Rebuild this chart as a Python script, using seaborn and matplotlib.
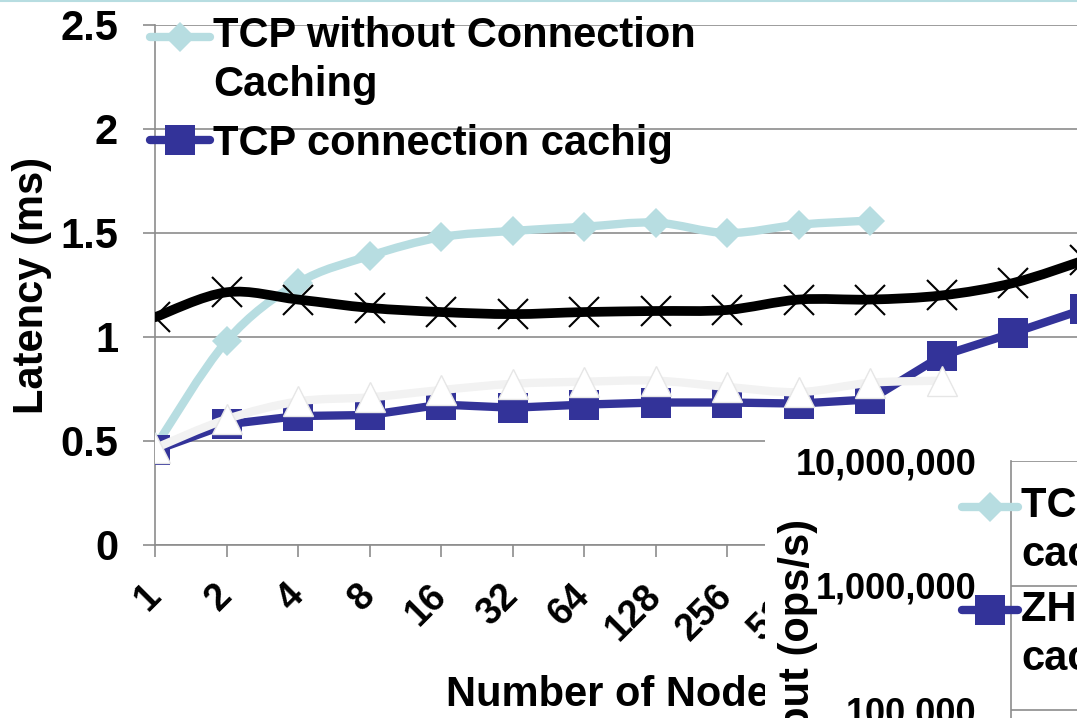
import numpy as np
import matplotlib
matplotlib.use("Agg")
import matplotlib.pyplot as plt
import seaborn as sns
from matplotlib.path import Path
from matplotlib.patches import PathPatch, Rectangle
from matplotlib.lines import Line2D
from matplotlib.legend_handler import HandlerLine2D
from matplotlib.ticker import FuncFormatter, FixedLocator, NullLocator

# ---------------- data ----------------
nodes = ["1", "2", "4", "8", "16", "32", "64", "128", "256", "512",
         "1024", "2048", "4096", "8192"]
tcp_no_cache = [0.47, 0.98, 1.26, 1.39, 1.48, 1.51, 1.53, 1.55, 1.50, 1.54, 1.56]
tcp_cache = [0.455, 0.58, 0.62, 0.625, 0.675, 0.66, 0.675, 0.685, 0.685, 0.68,
             0.70, 0.91, 1.02, 1.135]
series_x = [1.095, 1.215, 1.18, 1.14, 1.12, 1.11, 1.12, 1.125, 1.13, 1.18,
            1.18, 1.20, 1.26, 1.37]
series_tri = [0.465, 0.605, 0.69, 0.71, 0.745, 0.775, 0.785, 0.79, 0.76,
              0.735, 0.78, 0.79]
lat_ticks = [0, 0.5, 1, 1.5, 2, 2.5]
lat_tick_labels = ["0", "0.5", "1", "1.5", "2", "2.5"]
thr_ticks = [1e3, 1e4, 1e5, 1e6, 1e7]
legend1_labels = ["TCP without Connection\nCaching", "TCP connection cachig"]
legend2_labels = ["TCP without connection\ncaching", "ZHT with connection\ncaching"]
lat_ylabel = "Latency (ms)"
lat_xlabel = "Number of Nodes"
thr_ylabel = "Throughput (ops/s)"

# ---------------- style ----------------
sns.set_style("white")
plt.rcParams["font.family"] = ["Liberation Sans", "DejaVu Sans"]
plt.rcParams["font.weight"] = "bold"
for k in ["text.color", "axes.labelcolor", "xtick.labelcolor", "ytick.labelcolor"]:
    plt.rcParams[k] = "black"

CYAN = "#B7DDE1"
NAVY = "#333399"
GRID = "#8C8C8C"
TRI_LINE = "#F2F2F2"

W, H = 1077, 718
fig = plt.figure(figsize=(W / 100, H / 100), dpi=100)
fig.patch.set_facecolor("white")


def fx(px):
    return px / W


def fy(py):
    return (H - py) / H


def smooth_path(xs, ys):
    pts = np.column_stack([xs, ys]).astype(float)
    n = len(pts)
    verts = [pts[0]]
    codes = [Path.MOVETO]
    for i in range(n - 1):
        p0 = pts[i - 1] if i > 0 else pts[i]
        p1 = pts[i]
        p2 = pts[i + 1]
        p3 = pts[i + 2] if i + 2 < n else pts[i + 1]
        c1 = p1 + (p2 - p0) / 6.0
        c2 = p2 - (p3 - p1) / 6.0
        verts += [c1, c2, p2]
        codes += [Path.CURVE4] * 3
    return Path(verts, codes)


class ShiftedHandler(HandlerLine2D):
    """Legend line handle moved up so it sits beside the first text line."""

    def __init__(self, dy, **kw):
        super().__init__(**kw)
        self.dy = dy

    def create_artists(self, legend, orig_handle, xdescent, ydescent, width,
                       height, fontsize, trans):
        artists = super().create_artists(legend, orig_handle, xdescent,
                                         ydescent, width, height, fontsize,
                                         trans)
        for a in artists:
            a.set_ydata(np.asarray(a.get_ydata(), float) + self.dy)
        return artists


# ---------------- latency chart ----------------
ax = fig.add_axes([fx(155), fy(545), fx(1085) - fx(155), fy(25) - fy(545)])
ax.set_zorder(1)
xpos = np.arange(len(nodes))

# cyan smooth
ax.add_patch(PathPatch(smooth_path(xpos[:len(tcp_no_cache)], tcp_no_cache),
                       fill=False, edgecolor=CYAN, lw=6, capstyle="round",
                       joinstyle="round", zorder=3))
sns.lineplot(x=xpos[:len(tcp_no_cache)], y=tcp_no_cache, ax=ax, color=CYAN,
             linewidth=0, marker="D", markersize=15, markeredgewidth=0,
             zorder=3.1)
# navy straight
sns.lineplot(x=xpos[:len(tcp_cache)], y=tcp_cache, ax=ax, color=NAVY,
             linewidth=6, marker="s", markersize=21, markeredgewidth=0,
             zorder=4)
# black smooth
ax.add_patch(PathPatch(smooth_path(xpos[:len(series_x)], series_x),
                       fill=False, edgecolor="black", lw=7, capstyle="round",
                       joinstyle="round", zorder=5))
sns.lineplot(x=xpos[:len(series_x)], y=series_x, ax=ax, color="black",
             linewidth=0, marker="x", markersize=21, markeredgewidth=1.5,
             markeredgecolor="black", zorder=5.1)
# light triangles smooth
ax.add_patch(PathPatch(smooth_path(xpos[:len(series_tri)], series_tri),
                       fill=False, edgecolor=TRI_LINE, lw=6, capstyle="round",
                       joinstyle="round", zorder=6))
sns.lineplot(x=xpos[:len(series_tri)], y=series_tri, ax=ax, color="white",
             linewidth=0, marker="^", markersize=21, markerfacecolor="white",
             markeredgecolor="#E6E6E6", markeredgewidth=1, zorder=6.1)

ax.set_xlim(0, len(nodes) - 1)
ax.set_ylim(0, 2.5)
ax.set_xticks(xpos)
ax.set_xticklabels(nodes, rotation=45, ha="right", va="center",
                   rotation_mode="anchor", fontsize=27, fontweight="bold")
ax.set_yticks(lat_ticks)
ax.set_yticklabels(lat_tick_labels, fontsize=30, fontweight="bold")
ax.tick_params(axis="x", direction="out", length=8.6, width=1.2, color=GRID,
               pad=24, bottom=True)
ax.tick_params(axis="y", direction="out", length=8.6, width=1.2, color=GRID,
               pad=18, left=True)
ax.grid(axis="y", color=GRID, lw=1.2)
ax.grid(axis="x", visible=False)
for s in ["top", "right"]:
    ax.spines[s].set_visible(False)
for s in ["left", "bottom"]:
    ax.spines[s].set_color(GRID)
    ax.spines[s].set_linewidth(1.2)
ax.set_ylabel(lat_ylabel, fontsize=30, fontweight="bold")
ax.yaxis.set_label_coords((52 - 155) / 930, 0.5)
ax.set_xlabel(lat_xlabel, fontsize=30, fontweight="bold", va="top")
ax.xaxis.set_label_coords(0.5, (545 - 675) / 520)

h1 = [Line2D([], [], color=CYAN, lw=6, marker="D", ms=15, mew=0,
             solid_capstyle="round"),
      Line2D([], [], color=NAVY, lw=6, marker="s", ms=21, mew=0,
             solid_capstyle="round")]
leg1 = ax.legend(h1, legend1_labels, loc="upper left",
                 bbox_to_anchor=(fx(150), fy(16)),
                 bbox_transform=fig.transFigure, frameon=False,
                 prop={"size": 30, "weight": "bold"}, handlelength=1.44,
                 handletextpad=0.07, labelspacing=0.45, borderpad=0,
                 borderaxespad=0,
                 handler_map={h1[0]: ShiftedHandler(18)})
for t in leg1.get_texts():
    t.set_linespacing(1.3)

# ---------------- cover of the second chart ----------------
cover = Rectangle((fx(765), -0.2), 0.5, fy(425) + 0.2, transform=fig.transFigure,
                  facecolor="white", edgecolor="none", zorder=2)
fig.add_artist(cover)

# ---------------- throughput chart ----------------
ax2_w = 0.6
ax2 = fig.add_axes([fx(1011), fy(959), ax2_w, fy(461) - fy(959)])
ax2.set_zorder(3)
ax2.set_facecolor("white")
ax2.set_yscale("log")
ax2.set_ylim(1e3, 1e7)
ax2.set_xlim(0, 1)
ax2.yaxis.set_major_locator(FixedLocator(thr_ticks))
ax2.yaxis.set_minor_locator(NullLocator())
ax2.yaxis.set_major_formatter(FuncFormatter(lambda v, p: f"{v:,.0f}"))
ax2.xaxis.set_major_locator(NullLocator())
ax2.tick_params(axis="y", direction="out", length=8, width=1.2, color=GRID,
                pad=17, labelsize=26)
for t in ax2.get_yticklabels():
    t.set_fontweight("bold")
ax2.grid(axis="y", color=GRID, lw=1.2)
for s in ["top", "right", "bottom"]:
    ax2.spines[s].set_visible(False)
ax2.spines["left"].set_color(GRID)
ax2.spines["left"].set_linewidth(1.2)
ax2.set_ylabel(thr_ylabel, fontsize=30, fontweight="bold")
ax2.yaxis.set_label_coords((818 - 1011) / (ax2_w * W), 0.5)

h2 = [Line2D([], [], color=CYAN, lw=6, marker="D", ms=15, mew=0,
             solid_capstyle="round"),
      Line2D([], [], color=NAVY, lw=6, marker="s", ms=21, mew=0,
             solid_capstyle="round")]
leg2 = ax2.legend(h2, legend2_labels, loc="upper left",
                  bbox_to_anchor=(fx(962), fy(486)),
                  bbox_transform=fig.transFigure, frameon=False,
                  prop={"size": 30, "weight": "bold"}, handlelength=1.35,
                  handletextpad=0.07, labelspacing=0.35, borderpad=0,
                  borderaxespad=0,
                  handler_map={h2[0]: ShiftedHandler(18),
                               h2[1]: ShiftedHandler(18)})
for t in leg2.get_texts():
    t.set_linespacing(1.3)

# top slide border
fig.add_artist(Line2D([0, 1], [fy(1), fy(1)], transform=fig.transFigure,
                      color=CYAN, lw=1.5, zorder=10))

fig.savefig("out.png", dpi=100)
